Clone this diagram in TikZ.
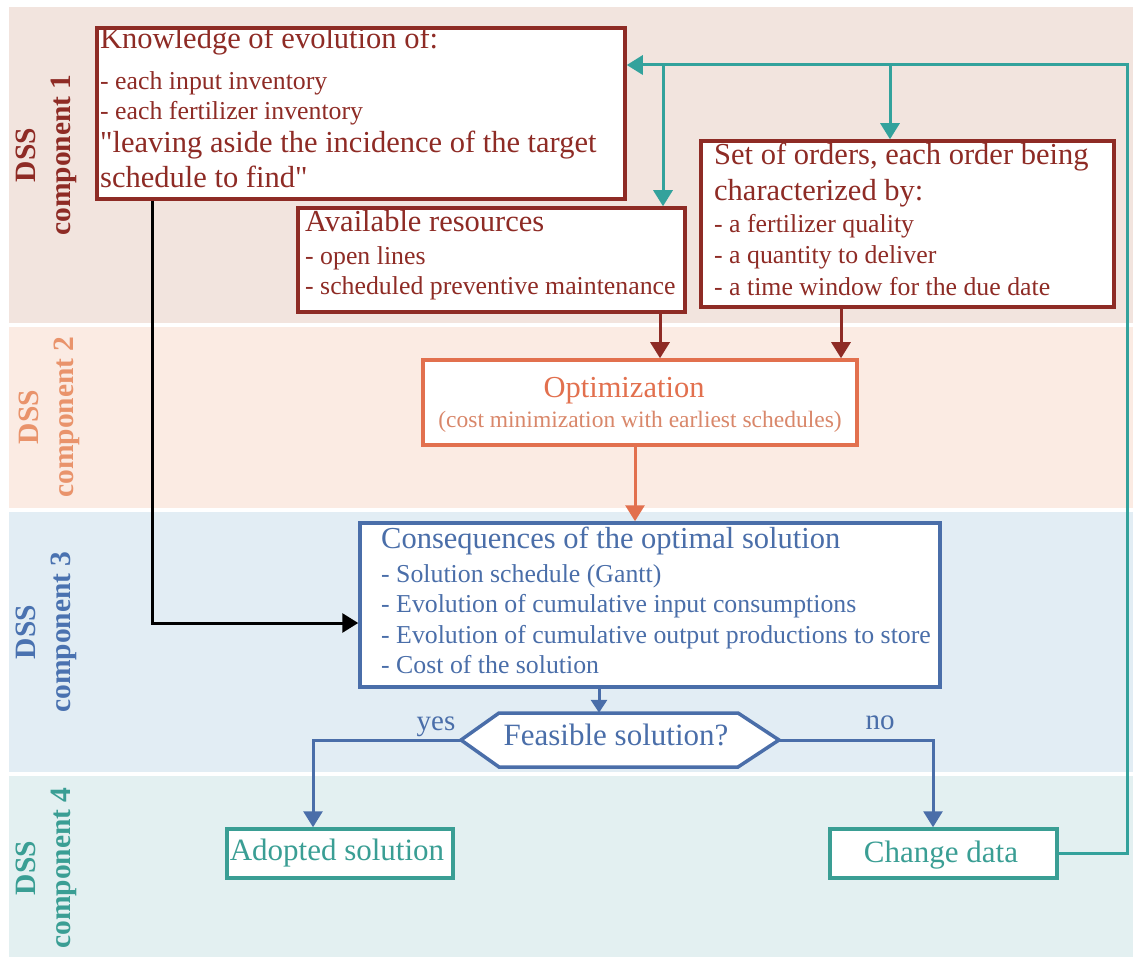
\documentclass[tikz,border=0pt]{standalone}
\usepackage{fontspec}
\setmainfont{Liberation Serif}[Ligatures=TeXOff]
\usetikzlibrary{arrows.meta}
\definecolor{dred}{HTML}{8E2B25}
\definecolor{orng}{HTML}{E2704E}
\definecolor{orngT}{HTML}{D9876A}
\definecolor{orngL}{HTML}{E9936B}
\definecolor{blu}{HTML}{4A6EA9}
\definecolor{bluL}{HTML}{4A72B0}
\definecolor{tealB}{HTML}{3A9E94}
\definecolor{tealL}{HTML}{33A29C}
\definecolor{bandA}{HTML}{F2E4DE}
\definecolor{bandB}{HTML}{FBEBE3}
\definecolor{bandC}{HTML}{E2EDF4}
\definecolor{bandD}{HTML}{E3F0F1}
\newcommand\fL{\fontsize{30.5}{35}\selectfont}
\newcommand\fS{\fontsize{25.8}{30}\selectfont}
\newcommand\fO{\fontsize{23.5}{27}\selectfont}
\newcommand\fLab{\fontsize{29.5}{35}\selectfont\bfseries}
\begin{document}
\begin{tikzpicture}[x=1pt,y=-1pt,
  box/.style={draw=#1, line width=3.5pt, fill=white, inner sep=0pt},
  txt/.style={anchor=base west, inner sep=0pt, text=#1},
  ctxt/.style={anchor=base, inner sep=0pt, text=#1},
  lab/.style={rotate=90, align=center, inner sep=0pt, text=#1, font=\fLab},
  arr/.style={draw=#1, line width=3pt, -{Triangle[width=19pt,length=16pt]}},
  band/.style={fill=#1, draw=none}]
\useasboundingbox (0,0) rectangle (1133,957);
% bands
\fill[bandA] (9,7) rectangle (1133,323);
\fill[bandB] (9,327) rectangle (1133,508);
\fill[bandC] (9,512) rectangle (1133,772);
\fill[bandD] (9,776) rectangle (1133,957);
% band labels
\node[lab=dred] (lab1) at (46,155) {DSS\\component 1};
\node[lab=orngL] (lab2) at (49,417) {DSS\\component 2};
\node[lab=bluL] (lab3) at (46,632) {DSS\\component 3};
\node[lab=tealB] (lab4) at (46,868) {DSS\\component 4};
% boxes
\node[box=dred, minimum width=528pt, minimum height=171pt] (know) at (361,113.5) {};
\node[box=dred, minimum width=387pt, minimum height=104pt] (avail) at (491.5,260) {};
\node[box=dred, minimum width=413pt, minimum height=166pt] (orders) at (907.5,224) {};
\node[box=orng, minimum width=434pt, minimum height=85pt] (opt) at (640,402.5) {};
\node[box=blu, minimum width=580pt, minimum height=164pt] (cons) at (650,605) {};
\node[box=tealB, minimum width=226pt, minimum height=49pt] (adopt) at (340,853.5) {};
\node[box=tealB, minimum width=227pt, minimum height=49pt] (change) at (943.5,853.5) {};
% hexagon decision
\coordinate (hW) at (461,740);
\coordinate (hE) at (779,740);
\draw[blu, line width=3.5pt, fill=white, line join=miter]
  (hW) -- (499,713) -- (738,713) -- (hE) -- (738,767) -- (499,767) -- cycle;
\node[inner sep=0pt, minimum width=318pt, minimum height=54pt] (hex) at (620,740) {};
\node[ctxt=blu, font=\fontsize{31}{35}\selectfont] (hexT) at (616,745) {Feasible solution?};
% texts of box 1
\node[txt=dred, font=\fL] (k1) at (100,49) {Knowledge of evolution of:};
\node[txt=dred, font=\fS] (k2) at (100,89.5) {- each input inventory};
\node[txt=dred, font=\fS] (k3) at (100,119.5) {- each fertilizer inventory};
\node[txt=dred, font=\fL] (k4) at (100,153) {"leaving aside the incidence of the target};
\node[txt=dred, font=\fL] (k5) at (100,188) {schedule to find"};
% box 2
\node[txt=dred, font=\fL] (a1) at (305,232) {Available resources};
\node[txt=dred, font=\fS] (a2) at (305,265) {- open lines};
\node[txt=dred, font=\fS] (a3) at (305,295) {- scheduled preventive maintenance};
% box 3
\node[txt=dred, font=\fL] (s1) at (714,165) {Set of orders, each order being};
\node[txt=dred, font=\fL] (s2) at (714,201) {characterized by:};
\node[txt=dred, font=\fS] (s3) at (714,233) {- a fertilizer quality};
\node[txt=dred, font=\fS] (s4) at (714,264) {- a quantity to deliver};
\node[txt=dred, font=\fS] (s5) at (714,296) {- a time window for the due date};
% optimization
\node[ctxt=orng, font=\fL] (o1) at (624,398) {Optimization};
\node[ctxt=orngT, font=\fO] (o2) at (640,428) {(cost minimization with earliest schedules)};
% consequences
\node[txt=blu, font=\fL] (c1) at (381,548) {Consequences of the optimal solution};
\node[txt=blu, font=\fS] (c2) at (381,582) {- Solution schedule (Gantt)};
\node[txt=blu, font=\fS] (c3) at (381,612) {- Evolution of cumulative input consumptions};
\node[txt=blu, font=\fS] (c4) at (381,643) {- Evolution of cumulative output productions to store};
\node[txt=blu, font=\fS] (c5) at (381,673) {- Cost of the solution};
% bottom boxes text
\node[ctxt=tealB, font=\fontsize{31}{35}\selectfont] (adT) at (337,860) {Adopted solution};
\node[ctxt=tealB, font=\fontsize{31}{35}\selectfont] (chT) at (941,862) {Change data};
% yes / no
\node[ctxt=blu, font=\fontsize{29}{33}\selectfont] (yes) at (436,730) {yes};
\node[ctxt=blu, font=\fontsize{29}{33}\selectfont] (no) at (880,729) {no};
% helper coordinates
\coordinate (fbR) at (1127,65);
\coordinate (brA) at (663,65);
\coordinate (brS) at (890,65);
\coordinate (xA) at (660,0);
\coordinate (xS) at (841,0);
\coordinate (xO) at (635,0);
\coordinate (xC) at (599,0);
\coordinate (blk) at (152,623);
\coordinate (xY) at (313,0);
\coordinate (xN) at (933,0);
% feedback (teal)
\draw[arr=tealL] (change.east) -| (fbR) -- (know.east |- fbR);
\draw[arr=tealL] (brA) -- (avail.north -| brA);
\draw[arr=tealL] (brS) -- (orders.north -| brS);
% dark red
\draw[arr=dred] (avail.south -| xA) -- (opt.north -| xA);
\draw[arr=dred] (orders.south -| xS) -- (opt.north -| xS);
% orange
\draw[arr=orng] (opt.south -| xO) -- (cons.north -| xO);
% black
\draw[arr=black] (know.south -| blk) -- (blk) -- (cons.west |- blk);
% blue
\draw[draw=blu, line width=3pt, -{Triangle[width=16pt,length=13pt]}] (cons.south -| xC) -- (hex.north -| xC);
\draw[arr=blu] (hex.west) -| (adopt.north -| xY);
\draw[arr=blu] (hex.east) -| (change.north -| xN);
\end{tikzpicture}
\end{document}
